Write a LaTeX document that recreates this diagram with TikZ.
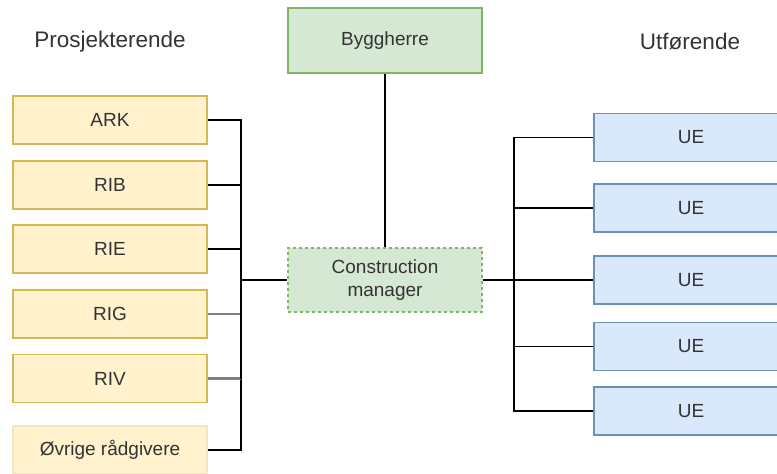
\documentclass[tikz,border=0pt]{standalone}
\usepackage{fontspec}
\setmainfont{Liberation Sans}
\definecolor{yfill}{HTML}{FFF2CC}
\definecolor{yline}{HTML}{D6B656}
\definecolor{gfill}{HTML}{D5E8D4}
\definecolor{gline}{HTML}{82B366}
\definecolor{bfill}{HTML}{DAE8FC}
\definecolor{bline}{HTML}{6C8EBF}
\definecolor{txt}{HTML}{333333}
\definecolor{linkgray}{HTML}{7F7F7F}
\tikzset{
  box/.style={rectangle, draw, line width=1.4pt, minimum width=194pt, minimum height=48pt,
    inner sep=0pt, text=txt, font=\fontsize{19}{23}\selectfont, align=center},
  advisor/.style={box, fill=yfill, draw=yline},
  contractor/.style={box, fill=bfill, draw=bline},
  owner/.style={box, fill=gfill, draw=gline},
  heading/.style={text=txt, font=\fontsize{22.5}{27}\selectfont},
  link/.style={draw=black, line width=1.6pt},
  greylink/.style={draw=linkgray, line width=2.6pt}
}
\begin{document}
\begin{tikzpicture}[x=1pt, y=-1pt]
\useasboundingbox (0,0) rectangle (777,474);
\clip (0,0) rectangle (777,474);

% headings
\node[heading] (hl) at (110,42) {Prosjekterende};
\node[heading] (hr) at (690,42) {Utførende};

% client and construction manager
\node[owner, minimum height=65pt] (bh) at (385,40.5) {Byggherre};
\node[owner, minimum height=64pt, dashed] (cm) at (385,280) {Construction\\manager};

% design disciplines
\node[advisor] (ark) at (110,120) {ARK};
\node[advisor] (rib) at (110,185) {RIB};
\node[advisor] (rie) at (110,249) {RIE};
\node[advisor] (rig) at (110,314) {RIG};
\node[advisor] (riv) at (110,378.5) {RIV};
\node[advisor, draw=yline!35] (ovr) at (110,450) {Øvrige rådgivere};

% subcontractors
\node[contractor] (ue1) at (691,137.5) {UE};
\node[contractor] (ue2) at (691,208) {UE};
\node[contractor] (ue3) at (691,280) {UE};
\node[contractor] (ue4) at (691,346.5) {UE};
\node[contractor] (ue5) at (691,411) {UE};

% connectors
\draw[link] (bh.south) -- (cm.north);
\draw[link] (ark.east) -- ++(33,0) |- (cm.west);
\draw[link] (rib.east) -- ++(33,0) |- (cm.west);
\draw[link] (rie.east) -- ++(33,0) |- (cm.west);
\draw[link] (ovr.east) -- ++(33,0) |- (cm.west);
\draw[greylink] (rig.east) -- ++(33,0);
\draw[greylink] (riv.east) -- ++(33,0);
\draw[link] (rig.east) ++(33,0) |- (cm.west);
\draw[link] (riv.east) ++(33,0) |- (cm.west);
\foreach \u in {ue1,ue2,ue3,ue4,ue5}
  \draw[link] (cm.east) -- ++(31,0) |- (\u.west);
\end{tikzpicture}
\end{document}
